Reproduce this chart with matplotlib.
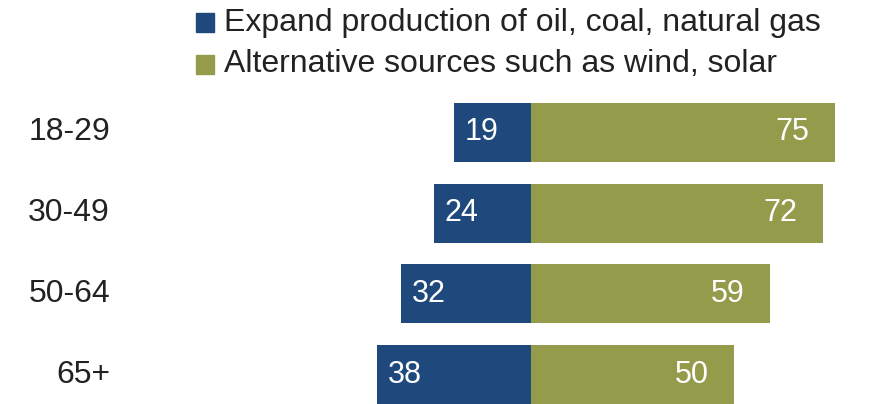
import matplotlib
matplotlib.use("Agg")
import matplotlib.pyplot as plt
from matplotlib.patches import Rectangle

plt.rcParams['font.family'] = ['Liberation Sans', 'DejaVu Sans']

# Data
ages = ['18-29', '30-49', '50-64', '65+']
fossil = [19, 24, 32, 38]
alternative = [75, 72, 59, 50]
legend_labels = ['Expand production of oil, coal, natural gas',
                 'Alternative sources such as wind, solar']

blue = '#1f497d'
olive = '#949b4a'

fig = plt.figure(figsize=(8.77, 4.04), dpi=100)
ax = fig.add_axes([0, 0, 1, 1])

px_per_unit = 4.05
center_px = 531
ax.set_xlim(-center_px / px_per_unit, (877 - center_px) / px_per_unit)
row_px = 80.7
first_px = 132.5
ax.set_ylim((404 - first_px) / row_px, -first_px / row_px)

ypos = range(len(ages))
ax.barh(ypos, [-v for v in fossil], height=0.73, color=blue)
ax.barh(ypos, alternative, height=0.73, color=olive)

for i, (f, a, lab) in enumerate(zip(fossil, alternative, ages)):
    ax.text(-f + 2.7, i, str(f), color='white', fontsize=22, va='center', ha='left')
    ax.text(a - 6.2, i, str(a), color='white', fontsize=22, va='center', ha='right')
    ax.text(-center_px / px_per_unit + 110 / px_per_unit, i, lab, color='#222222',
            fontsize=23, va='center', ha='right')

ax.axis('off')

# Legend
for k, (lab, col) in enumerate(zip(legend_labels, [blue, olive])):
    yc = 404 - (22.5 + 42 * k)
    fig.patches.append(Rectangle((196 / 877, (yc - 9) / 404), 18 / 877, 18 / 404,
                                 transform=fig.transFigure, color=col))
    fig.text(224 / 877, yc / 404, lab, fontsize=23, va='center', ha='left', color='#222222')

plt.savefig('out.png', dpi=100)
